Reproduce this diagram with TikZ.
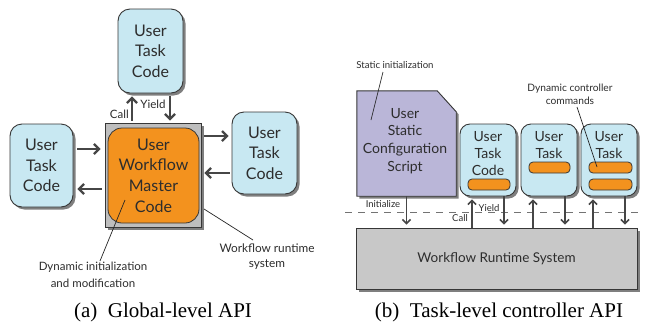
\documentclass[tikz,border=0pt]{standalone}
\usepackage{fontspec}
\setmainfont{Lato}
\newfontfamily\capfont{Liberation Serif}
\usetikzlibrary{arrows.meta,shadows,calc}

\definecolor{taskblue}{RGB}{200,232,242}
\definecolor{masterorange}{RGB}{243,146,30}
\definecolor{scriptpurple}{RGB}{186,182,216}
\definecolor{rtgray}{RGB}{200,200,200}
\definecolor{framegray}{RGB}{190,190,190}
\definecolor{edgegray}{RGB}{55,55,55}
\definecolor{inkgray}{RGB}{45,45,45}
\definecolor{arrowgray}{RGB}{70,70,70}

\tikzset{
  x=1pt, y=-1pt,
  softshade/.style={drop shadow={shadow xshift=2.5pt,shadow yshift=-2.5pt,opacity=0.5,fill=black}},
  bigtask/.style={draw=edgegray, line width=0.9pt, fill=taskblue, rounded corners=12pt,
    align=center, text=inkgray, font=\fontsize{16}{20.5}\selectfont, inner sep=0pt, softshade},
  smalltask/.style={draw=edgegray, line width=0.9pt, fill=taskblue, rounded corners=10pt,
    inner sep=0pt, minimum width=56pt, minimum height=72pt, softshade},
  boxtext/.style={align=center, text=inkgray, font=\fontsize{14}{17}\selectfont, inner sep=0pt},
  cmdbar/.style={draw=edgegray, line width=0.8pt, fill=masterorange, rounded corners=4pt,
    inner sep=0pt, minimum height=11pt},
  bigarrow/.style={draw=arrowgray, line width=2.2pt, -{Straight Barb[length=5pt,width=10pt]}},
  smallarrow/.style={draw=arrowgray, line width=1.5pt, -{Straight Barb[length=4pt,width=8pt]}},
  note/.style={align=center, text=inkgray, inner sep=0pt},
  pointer/.style={draw=black!85, line width=0.7pt},
  caption/.style={font=\capfont\fontsize{21}{25}\selectfont, inner sep=0pt}
}

\begin{document}
\begin{tikzpicture}
\fill[white] (0,0) rectangle (649,325);
\useasboundingbox (0,0) rectangle (649,325);

% ---------- (a) global-level API ----------
\node[bigtask, minimum width=65pt, minimum height=84pt] (top) at (150.5,51) {User\\Task\\Code};
\node[bigtask, minimum width=63pt, minimum height=83pt] (left) at (41.5,165.5) {User\\Task\\Code};
\node[bigtask, minimum width=65pt, minimum height=82pt] (right) at (264.5,153) {User\\Task\\Code};

\node[draw=edgegray, line width=0.9pt, fill=framegray, minimum width=96pt, minimum height=104pt,
  inner sep=0pt, softshade] (frame) at (153,175) {};
\node[draw=edgegray, line width=0.8pt, fill=masterorange, rounded corners=14pt,
  minimum width=91pt, minimum height=95pt, inner sep=0pt, align=center, text=inkgray,
  font=\fontsize{16}{20.7}\selectfont] (master) at (153.5,175.5) {User\\Workflow\\Master\\Code};

% call / yield with the upper task
\draw[bigarrow, shorten <=2pt, shorten >=3pt] ([xshift=-21pt]frame.north) -- ([xshift=-21pt]frame.north |- top.south);
\draw[bigarrow, shorten <=3pt, shorten >=2pt] ([xshift=17pt]frame.north |- top.south) -- ([xshift=17pt]frame.north);
\node[note, font=\fontsize{11.5}{13}\selectfont, anchor=east] (callA) at (129,114) {Call};
\node[note, font=\fontsize{11.5}{13}\selectfont] (yieldA) at (153,104) {Yield};

% left task
\draw[bigarrow, shorten <=4pt, shorten >=4pt] ([yshift=16.5pt]left.east) -- ([yshift=16.5pt]left.east -| frame.west);
\draw[bigarrow, shorten <=3pt, shorten >=4pt] ([yshift=-23.5pt]left.east -| frame.west) -- ([yshift=-23.5pt]left.east);

% right task
\draw[bigarrow, shorten <=3pt, shorten >=3pt] ([yshift=17pt]right.west -| frame.east) -- ([yshift=17pt]right.west);
\draw[bigarrow, shorten <=2pt, shorten >=3pt] ([yshift=-20pt]right.west) -- ([yshift=-20pt]right.west -| frame.east);

% annotations
\node[note, font=\fontsize{11.5}{16.5}\selectfont] (dyninit) at (93,275) {Dynamic initialization\\and modification};
\coordinate (dynpt) at (125,200);
\draw[pointer] (dynpt) -- (100,261);
\node[note, font=\fontsize{11.8}{15.5}\selectfont] (rtnote) at (267,256.5) {Workflow runtime\\system};
\coordinate (rtpt) at (204,209);
\draw[pointer] (rtpt) -- (253,240);

\node[caption] (capA) at (163,312) {(a)\ \ Global-level API};

% ---------- (b) task-level controller API ----------
\node[minimum width=99pt, minimum height=105pt, inner sep=0pt] (script) at (406.5,143.5) {};
\path[draw=edgegray, line width=0.9pt, fill=scriptpurple, softshade]
  (script.north west) -- ([xshift=-19pt]script.north east) -- ([yshift=-21pt]script.north east)
  -- (script.south east) -- (script.south west) -- cycle;
\node[boxtext, font=\fontsize{14}{17.7}\selectfont] (scripttext) at (405,141) {User\\Static\\Configuration\\Script};

\node[smalltask] (t1) at (488,160) {};
\node[smalltask] (t2) at (549,160) {};
\node[smalltask] (t3) at (609,160) {};
\node[boxtext] (t1text) at (488,154) {User\\Task\\Code};
\node[boxtext] (t2text) at (549,145.5) {User\\Task};
\node[boxtext] (t3text) at (609,145.5) {User\\Task};
\node[cmdbar, minimum width=42pt] (b1) at (489,184.5) {};
\node[cmdbar, minimum width=41pt] (b2) at (549.5,167.5) {};
\node[cmdbar, minimum width=43pt] (b3a) at (610.5,167.5) {};
\node[cmdbar, minimum width=43pt] (b3b) at (610.5,184.5) {};

\node[draw=edgegray, line width=0.9pt, fill=rtgray, minimum width=281pt, minimum height=61pt,
  inner sep=0pt, text=inkgray, font=\fontsize{13.5}{16}\selectfont, softshade] (wrs) at (496.5,258.5)
  {Workflow Runtime System};

% boundary between user code and the runtime
\coordinate (dashL) at (345,212);
\coordinate (dashR) at (642,212);
\draw[draw=black!55, line width=0.9pt, dash pattern=on 7pt off 6pt] (dashL) -- (dashR);

% initialize, call and yield arrows
\draw[smallarrow, shorten >=3pt] (script.south) -- (script.south |- wrs.north);
\foreach \t in {t1,t2,t3}{
  \draw[smallarrow, shorten >=3pt] ([xshift=-16pt]\t.south |- wrs.north) -- ([xshift=-16pt]\t.south);
  \draw[smallarrow, shorten >=3pt] ([xshift=16pt]\t.south) -- ([xshift=16pt]\t.south |- wrs.north);
}
\node[note, font=\fontsize{9.5}{11}\selectfont] (initlbl) at (383,204) {Initialize};
\node[note, font=\fontsize{9.5}{11}\selectfont] (calllbl) at (460,218) {Call};
\node[note, font=\fontsize{9.5}{11}\selectfont] (yieldlbl) at (489,208) {Yield};

% annotations
\node[note, font=\fontsize{9.6}{11}\selectfont] (staticlbl) at (395,65) {Static initialization};
\coordinate (staticpt) at (371,120);
\draw[pointer] (383,72) -- (staticpt);
\node[note, font=\fontsize{10.2}{13}\selectfont] (dynlbl) at (570,94) {Dynamic controller\\commands};
\coordinate (dynctlpt) at (597,167);
\draw[pointer] (577,107) -- (dynctlpt);

\node[caption] (capB) at (499,312) {(b)\ \ Task-level controller API};
\end{tikzpicture}
\end{document}
